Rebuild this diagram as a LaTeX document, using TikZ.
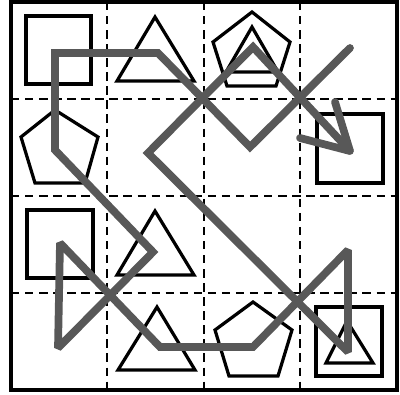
\documentclass[tikz,border=0pt]{standalone}
\begin{document}
\begin{tikzpicture}[x=0.25mm,y=-0.25mm,
  figshape/.style={draw=black,line width=2.3pt,line join=miter},
  gridline/.style={draw=black,line width=0.9pt,dash pattern=on 6pt off 4pt},
  route/.style={draw={rgb,255:red,88;green,88;blue,88},line width=5.5pt,line cap=round,line join=miter,miter limit=2}]
\useasboundingbox (0,0) rectangle (400,394);
\fill[white] (0,0) rectangle (400,394);
% grid
\draw[gridline] (107,2) -- (107,390) (204,2) -- (204,390) (300,2) -- (300,390);
\draw[gridline] (11,99) -- (397,99) (11,196) -- (397,196) (11,293) -- (397,293);
\draw[black,line width=2.3pt] (11,2) rectangle (397,390);
% shapes row 0
\draw[figshape] (26,16) rectangle (91,84);
\draw[figshape] (155,17) -- (194,81) -- (117,81) -- cycle;
\draw[figshape] (252,12) -- (290,42) -- (276,86) -- (227,86) -- (213,42) -- cycle;
\draw[figshape] (252,27) -- (278,72) -- (226,72) -- cycle;
% row 1
\draw[figshape] (55,110) -- (98,137) -- (85,183) -- (35,183) -- (21,137) -- cycle;
\draw[figshape] (317,114) rectangle (383,183);
% row 2
\draw[figshape] (27,210) rectangle (93,278);
\draw[figshape] (155,211) -- (194,275) -- (117,275) -- cycle;
% row 3
\draw[figshape] (157,307) -- (195,370) -- (118,370) -- cycle;
\draw[figshape] (253,302) -- (292,330) -- (278,376) -- (229,376) -- (215,330) -- cycle;
\draw[figshape] (316,307) rectangle (382,376);
\draw[figshape] (347,321) -- (373,363) -- (326,363) -- cycle;
% route
\coordinate (p1) at (350,48);
\coordinate (p2) at (250,147);
\coordinate (p3) at (158,53);
\coordinate (p4) at (55,53);
\coordinate (p5) at (55,150);
\coordinate (p6) at (153,252);
\coordinate (p7) at (58,348);
\coordinate (p8) at (60,243);
\coordinate (p9) at (160,347);
\coordinate (p10) at (253,347);
\coordinate (p11) at (348,250);
\coordinate (p12) at (348,352);
\coordinate (p13) at (148,153);
\coordinate (p14) at (253,47);
\coordinate (p15) at (350,151);
\coordinate (b1) at (300,138);
\coordinate (b2) at (335,102);
\draw[route] (p1) -- (p2) -- (p3) -- (p4) -- (p5) -- (p6) -- (p7) -- (p8) -- (p9) -- (p10) -- (p11) -- (p12) -- (p13) -- (p14) -- (p15);
\draw[route] (b1) -- (p15) -- (b2);
\end{tikzpicture}
\end{document}
